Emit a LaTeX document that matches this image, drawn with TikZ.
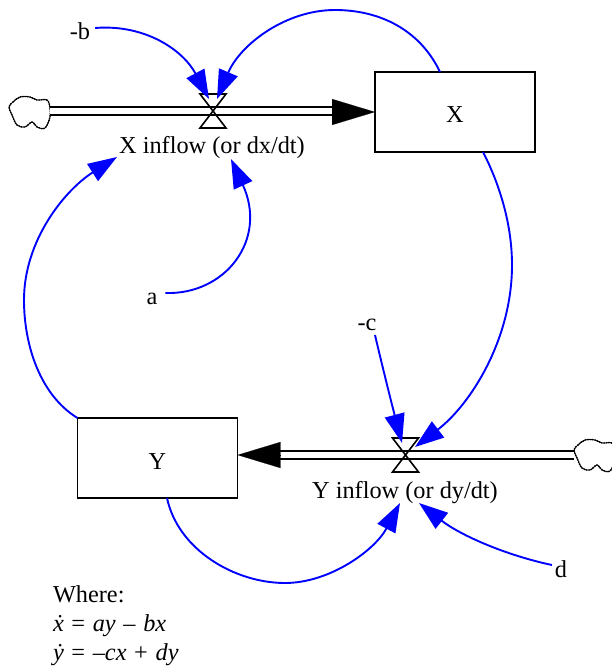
\documentclass[tikz,border=0pt]{standalone}
\usepackage{fontspec}
\setmainfont{Liberation Serif}
\usetikzlibrary{arrows.meta}
\tikzset{
  x=1pt,y=-1pt,
  lbl/.style={inner sep=0pt,outer sep=0pt,font=\fontsize{24.3}{29}\selectfont},
  stock/.style={draw=black,line width=1.6pt,minimum width=160pt,minimum height=80pt,inner sep=0pt,outer sep=0pt,text height=22pt,text depth=0pt,font=\fontsize{24.3}{29}\selectfont},
  valve/.style={minimum width=26pt,minimum height=34pt,inner sep=0pt,outer sep=0pt},
  valveline/.style={draw=black,line width=1.6pt,line join=miter},
  pipe/.style={draw=black,line width=2pt,double=white,double distance=5.5pt},
  bigtip/.style={draw=black,line width=.1pt,-{Triangle[length=43pt,width=26pt]}},
  link/.style={draw=blue,line width=1.9pt,-{Triangle[length=29pt,width=20pt]}},
  cloud/.pic={\draw[black,line width=1.4pt,densely dotted,line join=round] plot[smooth cycle,tension=.6] coordinates {(50,108) (47,100) (37,100) (30,97) (20,97) (13,102) (9,107) (12,115) (17,125) (25,127) (32,122) (37,127) (45,128) (50,117)};
  \draw[black,line width=.8pt] plot[smooth cycle,tension=.6] coordinates {(50,108) (47,100) (37,100) (30,97) (20,97) (13,102) (9,107) (12,115) (17,125) (25,127) (32,122) (37,127) (45,128) (50,117)};}
}
\newcommand{\opgap}{\kern1.6pt}
\begin{document}
\begin{tikzpicture}
\useasboundingbox (0,0) rectangle (611,668);
% stocks
\node[stock] (X) at (455,112) {X};
\node[stock] (Y) at (157.5,458) {Y};
% valves
\node[valve] (vx) at (213,111) {};
\node[valve] (vy) at (405.5,455) {};
% clouds
\pic at (0,0) {cloud};
\pic at (565,343) {cloud};
\coordinate (cx) at (50,111);
\coordinate (cy) at (574,455);
% pipes
\draw[pipe] (cx) -- ([xshift=-40pt]X.west |- cx);
\draw[pipe] (cy) -- ([xshift=40pt]Y.east |- cy);
\draw[bigtip] ([xshift=-43pt]X.west) -- (X.west);
\draw[bigtip] ([xshift=43pt]Y.east |- cy) -- (Y.east |- cy);
\draw[valveline] (vx.north west) -- (vx.north east) -- (vx.south west) -- (vx.south east) -- cycle;
\draw[valveline] (vy.north west) -- (vy.north east) -- (vy.south west) -- (vy.south east) -- cycle;
% labels
\node[lbl] (lx) at (212,148) {X inflow (or dx/dt)};
\node[lbl] (ly) at (405,493) {Y inflow (or dy/dt)};
\node[lbl] (mb) at (80,31) {-b};
\node[lbl] (ma) at (152,299) {a};
\node[lbl] (mc) at (367,325) {-c};
\node[lbl] (md) at (561,569) {d};
\node[lbl,anchor=north west,align=left] (eq) at (53,586) {Where:\\
\itshape\.{x}\upshape\opgap{} = \opgap\itshape ay\upshape\opgap{} – \opgap\itshape bx\\
\itshape\.{y}\upshape\opgap{} = \opgap–\itshape cx\upshape\opgap{} + \opgap\itshape dy};
% connectors
\draw[link] ([xshift=5pt,yshift=3pt]mb.east) .. controls (145,24) and (183,50) .. ([xshift=-4pt,yshift=12pt]vx.center);
\draw[link] ([xshift=-15pt]X.north) .. controls (420,30) and (380,10) .. (335,10) .. controls (285,10) and (240,45) .. ([xshift=4pt,yshift=12pt]vx.center);
\draw[link] ([xshift=8pt,yshift=6pt]ma.east) .. controls (225,295) and (268,240) .. ([xshift=19pt,yshift=-11pt]lx.center);
\draw[link] (Y.north west) .. controls (40,395) and (24,345) .. (24,300) .. controls (24,240) and (65,190) .. ([xshift=-95pt,yshift=-9pt]lx.center);
\draw[link] ([xshift=28pt]X.south) .. controls (500,185) and (512,225) .. (512,265) .. controls (512,340) and (470,405) .. ([xshift=9.5pt,yshift=8pt]vy.center);
\draw[link] ([xshift=8pt,yshift=-10pt]mc.center) .. controls (382,365) and (392,405) .. ([xshift=-3.5pt,yshift=12pt]vy.center);
\draw[link] ([xshift=-3pt,yshift=4pt]md.west) .. controls (505,555) and (460,535) .. ([xshift=14pt,yshift=-10pt]ly.center);
\draw[link] ([xshift=9.5pt]Y.south) .. controls (178,550) and (235,583) .. (285,583) .. controls (330,583) and (375,550) .. ([xshift=-5pt,yshift=-10pt]ly.center);
\end{tikzpicture}
\end{document}
